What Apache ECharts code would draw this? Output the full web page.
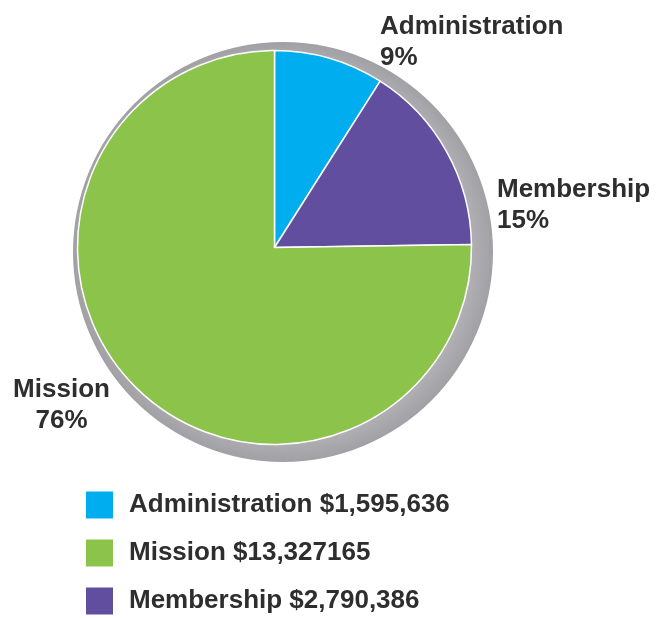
<!DOCTYPE html>
<html>
<head>
<meta charset="utf-8">
<script src="https://cdn.jsdelivr.net/npm/echarts@6/dist/echarts.min.js"></script>
<style>
html,body{margin:0;padding:0;background:#fff;}
#chart{width:670px;height:618px;}
</style>
</head>
<body>
<div id="chart"></div>
<script>
const categories = ['Administration', 'Membership', 'Mission'];
const amounts = [1595636, 2790386, 13327165];
const amountLabels = ['$1,595,636', '$2,790,386', '$13,327165'];
const pctLabels = ['9%', '15%', '76%'];
const legendOrder = ['Administration', 'Mission', 'Membership'];
const colors = ['#00AEEF', '#624E9F', '#8CC34B'];

const labelSpots = [
  { x: 380, y: 11, align: 'left' },
  { x: 497, y: 174, align: 'left' },
  { x: 61.5, y: 374, align: 'center' }
];

const chart = echarts.init(document.getElementById('chart'));
const font = '"Liberation Sans", Arial, Helvetica, sans-serif';

chart.setOption({
  animation: false,
  backgroundColor: '#fff',
  color: colors,
  legend: {
    data: legendOrder,
    orient: 'vertical',
    left: 86,
    top: 490,
    height: 200,
    icon: 'rect',
    itemWidth: 27,
    itemHeight: 27,
    itemGap: 18,
    padding: 0,
    itemStyle: { borderWidth: 0 },
    selectedMode: false,
    formatter: function (name) {
      return name + ' ' + amountLabels[categories.indexOf(name)];
    },
    textStyle: {
      fontFamily: font,
      fontSize: 26,
      fontWeight: 'bold',
      color: '#2e2e2e',
      lineHeight: 27,
      padding: [3, 0, 0, 11]
    }
  },
  series: [
    {
      type: 'pie',
      silent: true,
      legendHoverLink: false,
      center: [283, 252],
      radius: 210,
      z: 1,
      label: { show: false },
      labelLine: { show: false },
      itemStyle: {
        borderWidth: 0,
        color: {
          type: 'radial', x: 0.5, y: 0.5, r: 0.5,
          colorStops: [
            { offset: 0, color: '#b6b6bb' },
            { offset: 0.9, color: '#afafb4' },
            { offset: 1, color: '#a0a0a5' }
          ]
        }
      },
      data: [{ value: 1, name: '' }]
    },
    {
      type: 'pie',
      center: [274.5, 247.5],
      radius: 197,
      startAngle: 90,
      clockwise: true,
      z: 2,
      itemStyle: { borderColor: '#ffffff', borderWidth: 1.5 },
      emphasis: { disabled: true },
      labelLine: { show: false },
      label: {
        show: true,
        position: 'outside',
        overflow: 'none',
        width: 300,
        formatter: function (p) {
          return p.name + '\n' + pctLabels[p.dataIndex];
        },
        fontFamily: font,
        fontSize: 26,
        fontWeight: 'bold',
        color: '#2e2e2e',
        lineHeight: 31
      },
      labelLayout: function (params) {
        const s = labelSpots[params.dataIndex];
        return { x: s.x, y: s.y, align: s.align, verticalAlign: 'top', moveOverlap: false, hideOverlap: false };
      },
      data: categories.map(function (c, i) {
        return { name: c, value: amounts[i] };
      })
    }
  ]
});
</script>
</body>
</html>
